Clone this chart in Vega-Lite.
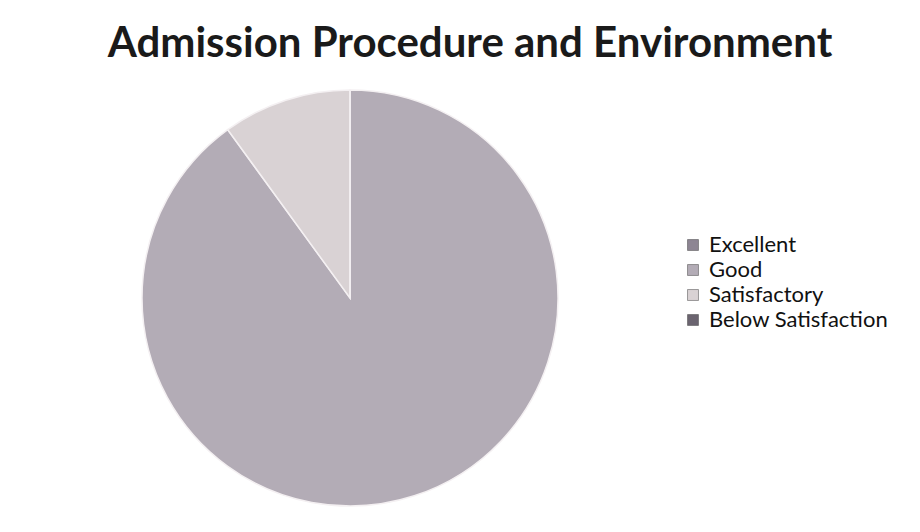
{
  "$schema": "https://vega.github.io/schema/vega-lite/v6.json",
  "autosize": {"type": "none"},
  "width": 684,
  "height": 420,
  "padding": {"left": 8, "top": 88, "right": 228, "bottom": 24},
  "background": "white",
  "title": {
    "text": "Admission Procedure and Environment",
    "font": "Lato",
    "fontSize": 42,
    "fontWeight": "bold",
    "color": "#1a1a1a",
    "anchor": "middle",
    "dx": 120,
    "offset": 21
  },
  "data": {
    "values": [
      {"rating": "Excellent", "count": 0, "rank": 1},
      {"rating": "Good", "count": 90, "rank": 2},
      {"rating": "Satisfactory", "count": 10, "rank": 3},
      {"rating": "Below Satisfaction", "count": 0, "rank": 4}
    ]
  },
  "mark": {"type": "arc", "outerRadius": 208, "stroke": "#f4f0f2", "strokeWidth": 1.5},
  "encoding": {
    "theta": {"field": "count", "type": "quantitative", "stack": true},
    "order": {"field": "rank", "type": "quantitative"},
    "color": {
      "field": "rating",
      "type": "nominal",
      "sort": ["Excellent", "Good", "Satisfactory", "Below Satisfaction"],
      "scale": {
        "domain": ["Excellent", "Good", "Satisfactory", "Below Satisfaction"],
        "range": ["#8d8593", "#b3acb6", "#d9d2d4", "#6b6470"]
      },
      "legend": {
        "title": null,
        "orient": "none",
        "legendX": 674,
        "legendY": 146,
        "symbolType": "square",
        "symbolSize": 120,
        "symbolStrokeColor": "#444",
        "symbolStrokeWidth": 0.5,
        "labelFont": "Lato",
        "labelFontSize": 22,
        "labelColor": "#111",
        "labelOffset": 5,
        "rowPadding": 3,
        "labelLimit": 300
      }
    }
  },
  "config": {"view": {"stroke": null}}
}
